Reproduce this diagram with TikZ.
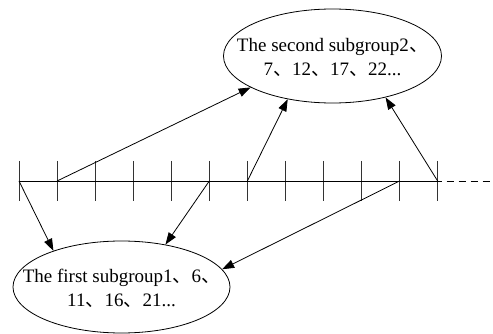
\documentclass[tikz,border=0pt]{standalone}
\usepackage{fontspec}
\setmainfont{Liberation Serif}
\newfontfamily\cjk{Noto Sans CJK SC}
\usetikzlibrary{shapes.geometric,arrows.meta}
\newcommand\dun{{\cjk 、}}
% centred two-line label that does not enlarge its ellipse
\newcommand\grouplabel[2]{\raisebox{-7pt}[0pt][0pt]{\makebox[0pt][c]{\begin{tabular}{@{}c@{}}#1\\#2\end{tabular}}}}
\begin{document}
\begin{tikzpicture}[x=1pt,y=-1pt,
  group/.style={draw,ellipse,line width=0.8pt,inner sep=0pt,
    font=\fontsize{19}{24}\selectfont},
  axisline/.style={line width=0.9pt},
  tick/.style={line width=0.9pt,black!80},
  link/.style={line width=0.8pt,-{Triangle[length=12pt,width=8.5pt]}}]
\useasboundingbox (0,0) rectangle (493,334);

% subgroup ellipses
\node[group,minimum width=218pt,minimum height=94pt] (second) at (332.5,56)
  {\grouplabel{The second subgroup2\dun}{7\dun12\dun17\dun22...}};
\node[group,minimum width=217pt,minimum height=92pt] (first) at (121.5,287)
  {\grouplabel{The first subgroup1\dun6\dun}{11\dun16\dun21...}};

% time axis with twelve ticks and a dashed continuation
\foreach \i in {0,...,11} {
  \coordinate (t\i) at ({19+\i*38.06},181);
  \draw[tick] ({19+\i*38.06},161) -- ({19+\i*38.06},201);
}
\coordinate (axisend) at (493,181);
\draw[axisline] (t0) -- (t11);
\draw[axisline,dash pattern=on 7pt off 5pt,dash phase=-9pt] (t11) -- (axisend);

% assignments to the subgroups
\draw[link] (t0) -- (first.152.6);
\draw[link] (t5) -- (first.44);
\draw[link] (t10) -- (first.10.7);
\draw[link] (t1) -- (second.201.7);
\draw[link] (t6) -- (second.224);
\draw[link] (t11) -- (second.322.9);
\end{tikzpicture}
\end{document}
